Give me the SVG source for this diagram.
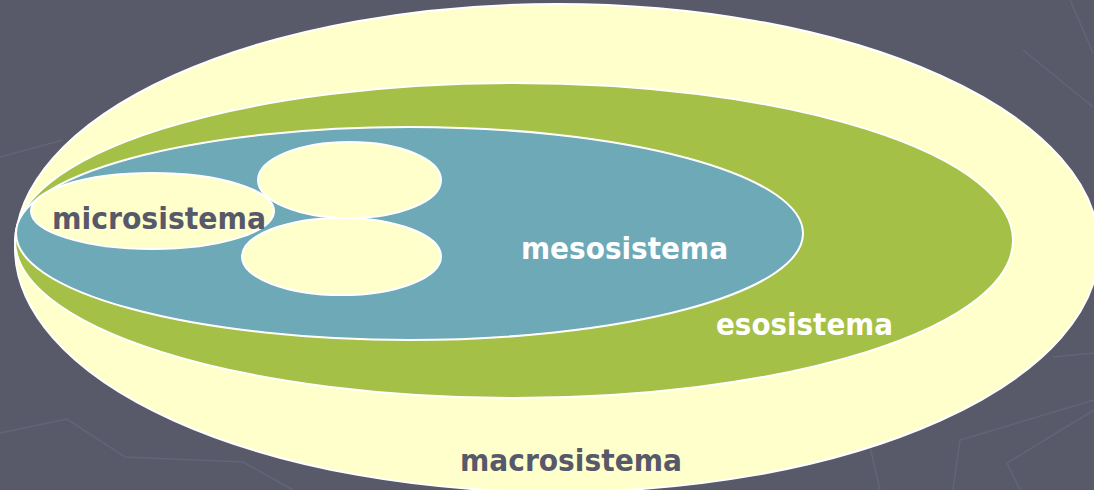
<svg xmlns="http://www.w3.org/2000/svg" width="1094" height="490" viewBox="0 0 1094 490">
  <style>
    .ring { stroke: #ffffff; stroke-width: 2; }
    .yellow { fill: #ffffcc; }
    .green { fill: #a5c046; }
    .teal { fill: #6ea9b7; }
    .bg-line { fill: none; stroke: #62647a; stroke-width: 1.5; }
    .label { font-family: "DejaVu Sans", Verdana, sans-serif; font-weight: bold; font-size: 31px; }
    .dark { fill: #575869; }
    .light { fill: #ffffff; }
  </style>
  <rect width="1094" height="490" fill="#585a6a"/>
  <g id="background-lines">
    <polyline class="bg-line" points="0,433 67,419 125,457 243,462 293,490"/>
    <polyline class="bg-line" points="0,157 63,140"/>
    <polyline class="bg-line" points="1070,0 1093,53"/>
    <polyline class="bg-line" points="1023,50 1093,107"/>
    <polyline class="bg-line" points="1053,357 1094,353"/>
    <polyline class="bg-line" points="953,490 960,440 1094,400"/>
    <polyline class="bg-line" points="1020,490 1007,463 1094,410"/>
    <polyline class="bg-line" points="870,447 880,490"/>
  </g>
  <g id="macrosistema">
    <ellipse class="ring yellow" cx="557" cy="248" rx="542" ry="244"/>
    <text class="label dark" x="460" y="471" textLength="222" lengthAdjust="spacingAndGlyphs">macrosistema</text>
  </g>
  <g id="esosistema">
    <ellipse class="ring green" cx="514" cy="240.5" rx="499" ry="157.5"/>
    <text class="label light" x="716" y="335" textLength="177" lengthAdjust="spacingAndGlyphs">esosistema</text>
  </g>
  <g id="mesosistema">
    <ellipse class="ring teal" cx="409.5" cy="233.5" rx="393.5" ry="106.5"/>
    <text class="label light" x="521" y="259" textLength="207" lengthAdjust="spacingAndGlyphs">mesosistema</text>
  </g>
  <g id="microsistema-upper">
    <ellipse class="ring yellow" cx="349.5" cy="180" rx="91.5" ry="38"/>
  </g>
  <g id="microsistema-lower">
    <ellipse class="ring yellow" cx="341.5" cy="256.5" rx="99.5" ry="38.5"/>
  </g>
  <g id="microsistema">
    <ellipse class="ring yellow" cx="152.5" cy="211" rx="121.5" ry="38"/>
    <text class="label dark" x="52" y="229" textLength="214" lengthAdjust="spacingAndGlyphs">microsistema</text>
  </g>
  <g id="connectors"/>
</svg>
